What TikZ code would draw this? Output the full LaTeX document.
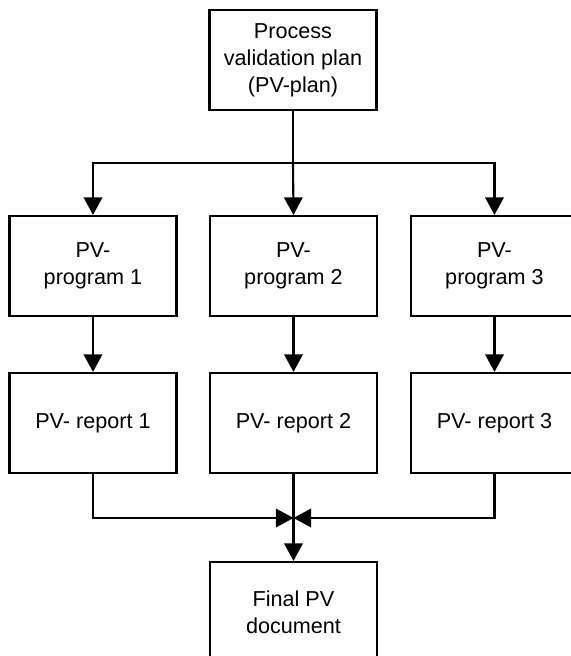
\documentclass[tikz,border=0pt]{standalone}
\usepackage{fontspec}
\setmainfont{Liberation Sans}
\usepackage{tikz}
\usetikzlibrary{arrows.meta,positioning,calc}

\tikzset{
  box/.style={draw, line width=1.2pt, minimum width=3.34cm, minimum height=2cm, align=center, font=\fontsize{12.3}{15.3}\selectfont},
  arr/.style={line width=1.2pt, -{Triangle[length=10pt,width=10.5pt]}},
  ln/.style={line width=1.2pt}
}

\begin{document}
\begin{tikzpicture}
            \useasboundingbox (0,0) rectangle (11.42,13.12);
            \clip (0,0) rectangle (11.42,13.12);
            % plan
            \node[box] (plan) at (5.86,11.92) {Process\\validation plan\\(PV-plan)};
            
            \node[box] (prog1) at (1.86,7.80) {PV-\\program 1};
            \node[box] (prog2) at (5.87,7.80) {PV-\\program 2};
            \node[box] (prog3) at (9.89,7.80) {PV-\\program 3};
            
            \node[box] (rep1) at (1.86,4.66) {PV- report 1};
            \node[box] (rep2) at (5.87,4.66) {PV- report 2};
            \node[box] (rep3) at (9.89,4.66) {PV- report 3};
            
            \node[box] (final) at (5.87,0.88) {Final PV\\document};
            
            % branch and merge points
            \coordinate (split) at (plan.south |- 0,9.86);
            \coordinate (join) at (rep2.south |- 0,2.76);
            
            \draw[ln] (plan.south) -- (split);
            \draw[arr] (split) -| (prog1.north);
            \draw[arr] (split) -- (prog2.north);
            \draw[arr] (split) -| (prog3.north);
            
            \draw[arr] (prog1) -- (rep1);
            \draw[arr] (prog2) -- (rep2);
            \draw[arr] (prog3) -- (rep3);
            
            \draw[arr] (rep1.south) |- (join);
            \draw[arr] (rep3.south) |- (join);
            \draw[arr] (rep2.south) -- (final.north);
        \end{tikzpicture}
\end{document}
